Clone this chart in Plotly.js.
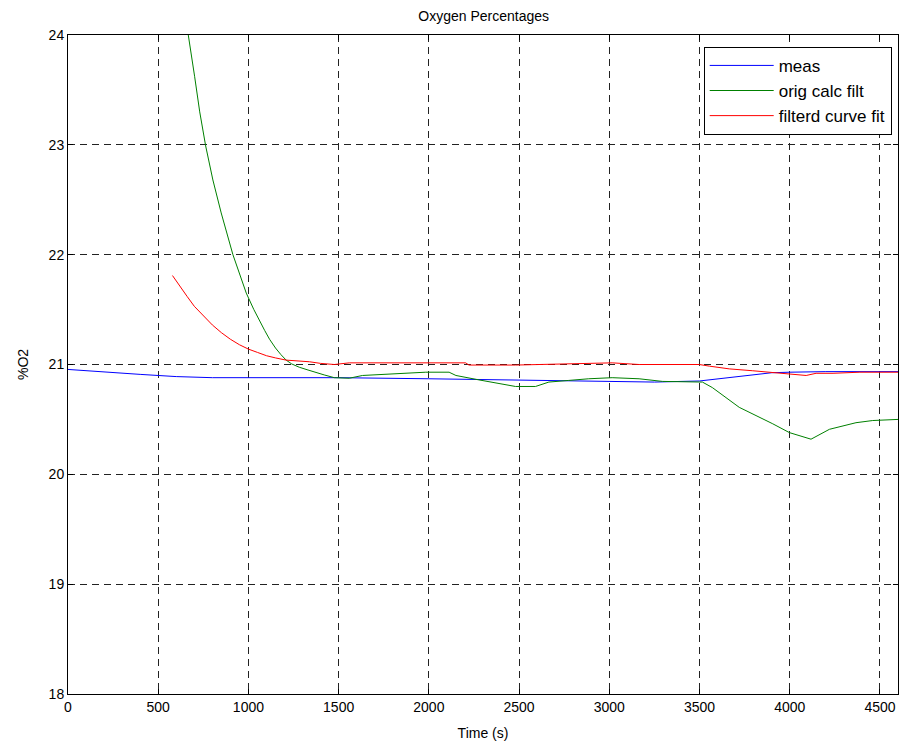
<!DOCTYPE html>
<html>
<head>
<meta charset="utf-8">
<script src="https://cdn.plot.ly/plotly-3.0.1.min.js"></script>
<style>html,body{margin:0;padding:0;background:#fff;}#chart{width:904px;height:748px;}</style>
</head>
<body>
<div id="chart"></div>
<script>
const measX = [0, 200, 400, 600, 800, 1000, 1500, 2000, 2500, 3000, 3250, 3500, 3600, 3700, 3800, 3900, 4000, 4200, 4600];
const measY = [20.955, 20.93, 20.91, 20.89, 20.88, 20.88, 20.88, 20.87, 20.86, 20.85, 20.84, 20.85, 20.87, 20.89, 20.91, 20.925, 20.93, 20.935, 20.935];

const origX = [620, 670, 702, 730, 763, 803, 849, 914, 988, 1030, 1060, 1090, 1117, 1150, 1180, 1209, 1240, 1282, 1330, 1375, 1420, 1476, 1559, 1632, 1780, 1983, 2112, 2150, 2277, 2388, 2480, 2591, 2665, 2775, 2886, 3016, 3165, 3295, 3443, 3516, 3571, 3720, 3906, 3998, 4118, 4220, 4367, 4460, 4600];
const origY = [24.5, 23.98, 23.62, 23.3, 22.99, 22.68, 22.38, 22.0, 21.65, 21.50, 21.40, 21.31, 21.23, 21.15, 21.09, 21.04, 21.005, 20.975, 20.95, 20.925, 20.905, 20.88, 20.875, 20.90, 20.91, 20.93, 20.93, 20.90, 20.86, 20.825, 20.80, 20.80, 20.84, 20.855, 20.87, 20.88, 20.87, 20.846, 20.84, 20.84, 20.79, 20.61, 20.46, 20.38, 20.32, 20.41, 20.47, 20.49, 20.50];

const fitX = [579, 620, 660, 700, 750, 800, 850, 900, 950, 1000, 1050, 1100, 1150, 1209, 1338, 1400, 1476, 1559, 2204, 2222, 2480, 2590, 3016, 3165, 3499, 3555, 3665, 3795, 3980, 4091, 4146, 4240, 4389, 4600];
const fitY = [21.81, 21.71, 21.62, 21.53, 21.44, 21.36, 21.29, 21.23, 21.18, 21.14, 21.11, 21.08, 21.06, 21.04, 21.025, 21.01, 21.0, 21.015, 21.015, 20.995, 20.995, 21.0, 21.015, 21.0, 21.0, 20.985, 20.96, 20.943, 20.92, 20.90, 20.92, 20.92, 20.93, 20.93];

const seriesNames = ["meas", "orig calc filt", "filterd curve fit"];
const xTicks = [0, 500, 1000, 1500, 2000, 2500, 3000, 3500, 4000, 4500];
const yTicks = [18, 19, 20, 21, 22, 23, 24];

const font = {family: "Liberation Sans, Arial, sans-serif", size: 14, color: "#000"};
const legendFont = {family: "Liberation Sans, Arial, sans-serif", size: 17, color: "#000"};

const traces = [
  {x: measX, y: measY, name: seriesNames[0], legendgroup: "a", mode: "lines", line: {color: "#0000ff", width: 1}},
  {x: origX, y: origY, name: seriesNames[1], legendgroup: "b", mode: "lines", line: {color: "#008000", width: 1}},
  {x: fitX, y: fitY, name: seriesNames[2], legendgroup: "c", mode: "lines", line: {color: "#ff0000", width: 1}}
];

const axisCommon = {
  showline: true, linecolor: "#000", linewidth: 1, mirror: "ticks",
  ticks: "inside", ticklen: 5, tickcolor: "#000",
  showgrid: true, gridcolor: "#222", gridwidth: 1, griddash: "7px,5px",
  zeroline: false, tickfont: font
};

const layout = {
  width: 904, height: 748,
  margin: {l: 68, r: 6, t: 35, b: 54},
  paper_bgcolor: "#fff", plot_bgcolor: "#fff",
  font: font,
  title: {text: "Oxygen Percentages", font: font, x: 0.535, xanchor: "center", y: 0.979, yanchor: "middle"},
  xaxis: Object.assign({}, axisCommon, {range: [0, 4600], tickvals: xTicks, ticktext: xTicks.map(String),
    title: {text: "Time (s)", font: font, standoff: 14}}),
  yaxis: Object.assign({}, axisCommon, {range: [18, 24], tickvals: yTicks, ticktext: yTicks.map(String),
    title: {text: "%O2", font: font, standoff: 16}}),
  showlegend: true,
  legend: {x: 0.9924, xanchor: "right", y: 0.982, yanchor: "top", bgcolor: "#fff",
    bordercolor: "#000", borderwidth: 1, font: legendFont, tracegroupgap: 0, itemwidth: 64}
};

Plotly.newPlot("chart", traces, layout, {staticPlot: true, displayModeBar: false});
</script>
</body>
</html>
